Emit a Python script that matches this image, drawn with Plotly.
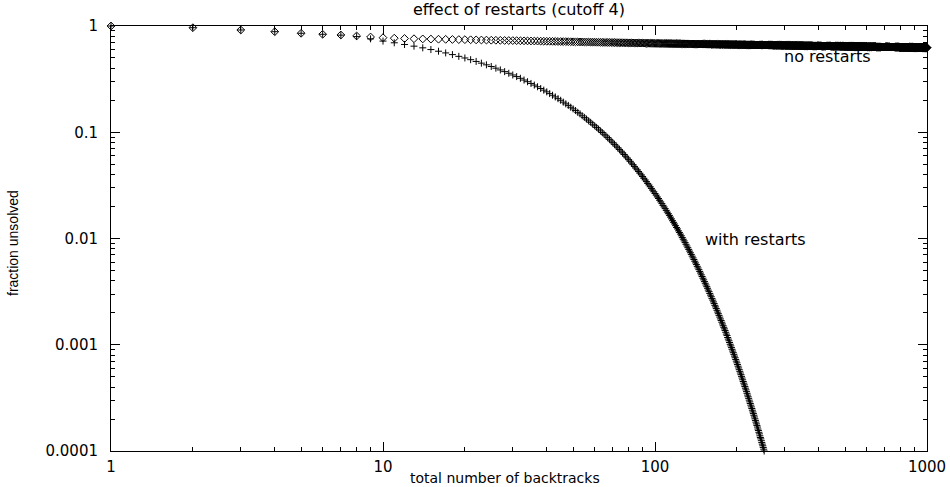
import numpy as np
import plotly.graph_objects as go

# total number of backtracks (one point per backtrack count)
BACKTRACKS = list(range(1, 1001))

# fraction unsolved without restarts, backtracks 1..100
NO_RESTARTS_HEAD = [
    1.0, .964, .917, .884, .854, .836, .823, .806, .788, .776,
    .768, .763, .759, .756, .753, .751, .749, .747, .745, .744,
    .742, .740, .738, .737, .735, .734, .733, .731, .730, .729,
    .728, .726, .725, .724, .723, .722, .721, .720, .719, .718,
    .718, .717, .716, .715, .714, .713, .713, .712, .711, .710,
    .710, .709, .708, .708, .707, .707, .706, .705, .705, .704,
    .703, .703, .702, .702, .701, .701, .700, .700, .699, .699,
    .698, .698, .697, .697, .696, .696, .695, .695, .695, .694,
    .694, .693, .693, .692, .692, .692, .691, .691, .690, .690,
    .690, .689, .689, .689, .688, .688, .687, .687, .687, .686,
]

# fraction unsolved without restarts, backtracks 101..1000, as (level, run length)
NO_RESTARTS_TAIL_LEVELS = [
    .686, .685, .684, .683, .682, .681, .680, .679, .678, .677,
    .676, .675, .674, .673, .672, .671, .670, .669, .668, .667,
    .666, .665, .664, .663, .662, .661, .660, .659, .658, .657,
    .656, .655, .654, .653, .652, .651, .650, .649, .648, .647,
    .646, .645, .644, .643, .642, .641, .640, .639, .638, .637,
    .636, .635, .634, .633, .632, .631, .630, .629, .628, .627,
    .626,
]
NO_RESTARTS_TAIL_RUNS = [
    3, 4, 4, 4, 4, 5, 4, 5, 5, 5,
    6, 5, 6, 6, 6, 7, 7, 7, 7, 8,
    7, 9, 8, 9, 9, 10, 10, 10, 11, 11,
    12, 12, 12, 13, 14, 14, 15, 15, 16, 17,
    17, 18, 19, 19, 21, 21, 22, 23, 23, 25,
    26, 27, 28, 29, 31, 31, 33, 35, 35, 38,
    37,
]

# fraction unsolved with restarts (cutoff 4), backtracks 1..252
WITH_RESTARTS = [
    1.0, .964, .917, .884, .854, .836, .82, .795, .757, .721,
    .695, .670, .646, .623, .600, .579, .558, .538, .518, .500,
    .482, .464, .447, .431, .416, .401, .386, .372, .359, .346,
    .334, .322, .310, .299, .288, .278, .268, .258, .249, .240,
    .231, .223, .215, .207, .200, .192, .185, .179, .172, .166,
    .160, .154, .149, .143, .138, .133, .128, .124, .119, .115,
    .111, .107, .103, .0994, .0958, .0924, .0890, .0858, .0827, .0797,
    .0769, .0741, .0714, .0689, .0664, .0640, .0617, .0595, .0573, .0552,
    .0533, .0513, .0495, .0477, .0460, .0443, .0427, .0412, .0397, .0383,
    .0369, .0356, .0343, .0330, .0319, .0307, .0296, .0285, .0275, .0265,
    .0256, .0246, .0238, .0229, .0221, .0213, .0205, .0198, .0191, .0184,
    .0177, .0171, .0165, .0159, .0153, .0147, .0142, .0137, .0132, .0127,
    .0123, .0118, .0114, .0110, .0106, .0102, .00984, .00949, .00915, .00882,
    .00850, .00819, .00790, .00761, .00734, .00708, .00682, .00657, .00634, .00611,
    .00589, .00568, .00547, .00528, .00509, .00490, .00473, .00455, .00439, .00423,
    .00408, .00393, .00379, .00365, .00352, .00340, .00327, .00316, .00304, .00293,
    .00283, .00272, .00263, .00253, .00244, .00235, .00227, .00219, .00211, .00203,
    .00196, .00189, .00182, .00175, .00169, .00163, .00157, .00151, .00146, .00141,
    .00136, .00131, .00126, .00122, .00117, .00113, .00109, .00105, .00101, 9.75e-4,
    9.40e-4, 9.06e-4, 8.73e-4, 8.42e-4, 8.12e-4, 7.82e-4, 7.54e-4, 7.27e-4, 7.01e-4, 6.76e-4,
    6.51e-4, 6.28e-4, 6.05e-4, 5.83e-4, 5.62e-4, 5.42e-4, 5.23e-4, 5.04e-4, 4.86e-4, 4.68e-4,
    4.51e-4, 4.35e-4, 4.19e-4, 4.04e-4, 3.90e-4, 3.76e-4, 3.62e-4, 3.49e-4, 3.36e-4, 3.24e-4,
    3.13e-4, 3.01e-4, 2.90e-4, 2.80e-4, 2.70e-4, 2.60e-4, 2.51e-4, 2.42e-4, 2.33e-4, 2.25e-4,
    2.17e-4, 2.09e-4, 2.01e-4, 1.94e-4, 1.87e-4, 1.80e-4, 1.74e-4, 1.68e-4, 1.61e-4, 1.56e-4,
    1.50e-4, 1.45e-4, 1.39e-4, 1.34e-4, 1.30e-4, 1.25e-4, 1.20e-4, 1.16e-4, 1.12e-4, 1.08e-4,
    1.04e-4, 1.00e-4,
]

X_TICKS = [1, 10, 100, 1000]
X_TICK_LABELS = ["1", "10", "100", "1000"]
Y_TICKS = [1e-4, 1e-3, 1e-2, 1e-1, 1]
Y_TICK_LABELS = ["0.0001", "0.001", "0.01", "0.1", "1"]

TITLE = "effect of restarts (cutoff 4)"
X_LABEL = "total number of backtracks"
Y_LABEL = "fraction unsolved"

no_restarts = NO_RESTARTS_HEAD + [float(v) for v in np.repeat(NO_RESTARTS_TAIL_LEVELS, NO_RESTARTS_TAIL_RUNS)]

FONT = "DejaVu Sans"

fig = go.Figure()
fig.add_trace(go.Scatter(
    x=BACKTRACKS, y=no_restarts, mode="markers", name="no restarts",
    marker=dict(symbol="diamond-open", size=6, color="black",
                line=dict(width=1, color="black")),
    showlegend=False, cliponaxis=False, hoverinfo="skip",
))
fig.add_trace(go.Scatter(
    x=BACKTRACKS[:len(WITH_RESTARTS)], y=WITH_RESTARTS, mode="markers",
    name="with restarts",
    marker=dict(symbol="cross-thin-open", size=5, color="black",
                line=dict(width=1, color="black")),
    showlegend=False, cliponaxis=False, hoverinfo="skip",
))

axis_common = dict(
    type="log", showgrid=False, zeroline=False, automargin=False,
    showline=True, linecolor="black", linewidth=1, mirror="ticks",
    ticks="inside", ticklen=9, tickwidth=1, tickcolor="black",
    tickfont=dict(family=FONT, size=15, color="black"),
    minor=dict(dtick="D1", ticks="inside", ticklen=4, tickwidth=1,
               tickcolor="black", showgrid=False),
)

fig.update_layout(
    width=950, height=487, autosize=False,
    margin=dict(l=111, r=23, t=26, b=36, pad=0),
    paper_bgcolor="white", plot_bgcolor="white",
    xaxis=dict(
        range=[0, 3], tickmode="array", tickvals=X_TICKS, ticktext=X_TICK_LABELS,
        ticklabelstandoff=2,
        **axis_common,
    ),
    yaxis=dict(
        range=[-4, 0], tickmode="array", tickvals=Y_TICKS, ticktext=Y_TICK_LABELS,
        ticklabelstandoff=9,
        **axis_common,
    ),
    annotations=[
        dict(text=TITLE, xref="paper", yref="paper", x=0.5, y=1.038,
             showarrow=False, xanchor="center", yanchor="middle",
             font=dict(family=FONT, size=16, color="black")),
        dict(text=X_LABEL, xref="paper", yref="paper", x=0.483, y=-0.064,
             showarrow=False, xanchor="center", yanchor="middle",
             font=dict(family=FONT, size=14, color="black")),
        dict(text=Y_LABEL, xref="paper", yref="paper", x=-0.121, y=0.49,
             showarrow=False, xanchor="center", yanchor="middle", textangle=-90,
             font=dict(family="Liberation Sans", size=14, color="black")),
        dict(text="no restarts", xref="x", yref="y", x=2.636, y=-0.291,
             showarrow=False, xanchor="center", yanchor="middle",
             font=dict(family=FONT, size=16, color="black")),
        dict(text="with restarts", xref="x", yref="y", x=2.371, y=-2.009,
             showarrow=False, xanchor="center", yanchor="middle",
             font=dict(family=FONT, size=16, color="black")),
    ],
)

fig.write_html("out.html", config={"responsive": False})
